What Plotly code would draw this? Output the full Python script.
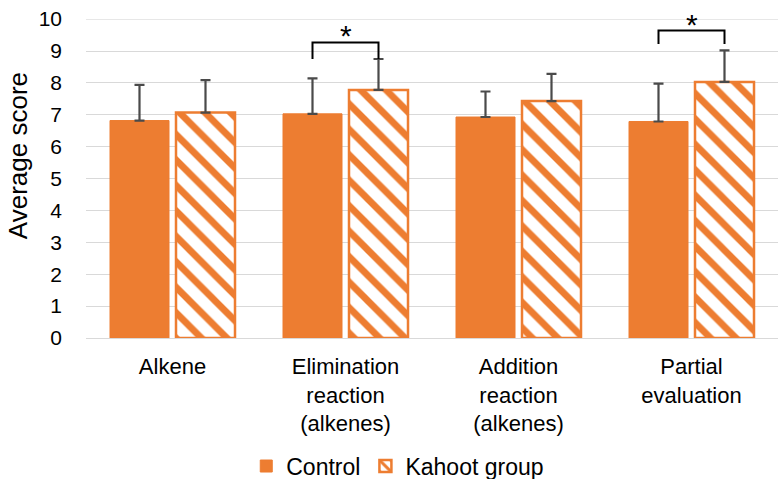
import plotly.graph_objects as go

categories = ["Alkene", "Elimination<br>reaction<br>(alkenes)", "Addition<br>reaction<br>(alkenes)", "Partial<br>evaluation"]
control = [6.82, 7.03, 6.93, 6.79]
control_err = [1.12, 1.11, 0.80, 1.19]
kahoot = [7.07, 7.78, 7.43, 8.03]
kahoot_err = [1.02, 0.97, 0.85, 0.99]
y_ticks = [0, 1, 2, 3, 4, 5, 6, 7, 8, 9, 10]
# significance brackets: category index, leg bottom, bracket top, label
sig_idx = [1, 3]
sig_bottom = [8.75, 9.22]
sig_top = [9.27, 9.64]
sig_label = ["*", "*"]

ORANGE = "#ED7D31"
GRID = "#D9D9D9"
FONT = "Liberation Sans, Arial, sans-serif"
bargap = 0.237
bargroupgap = 0.106

fig = go.Figure()
fig.add_trace(go.Bar(
    name="Control", x=categories, y=control,
    marker=dict(color=ORANGE, line=dict(color=ORANGE, width=1)),
    error_y=dict(type="data", array=control_err, symmetric=False, arrayminus=[0]*4,
                 color="#4a4a4a", thickness=2.2, width=5),
))
fig.add_trace(go.Bar(
    name="Kahoot group", x=categories, y=kahoot,
    marker=dict(color="white", line=dict(color=ORANGE, width=2.5),
                pattern=dict(shape="\\", fgcolor=ORANGE, bgcolor="white", fgopacity=1,
                             fillmode="replace", size=18, solidity=0.38)),
    error_y=dict(type="data", array=kahoot_err, symmetric=False, arrayminus=[0]*4,
                 color="#4a4a4a", thickness=2.2, width=5),
))

# top gridline (at the upper edge of the value range)
fig.add_shape(type="line", xref="paper", yref="y", x0=0, x1=1,
              y0=y_ticks[-1], y1=y_ticks[-1], line=dict(color=GRID, width=1), layer="below")

off = (1 - bargap) / 4
for i, yb, yt, lab in zip(sig_idx, sig_bottom, sig_top, sig_label):
    x0 = i - off
    x1 = i + off
    fig.add_shape(type="path",
                  path=f"M {x0} {yb} L {x0} {yt} L {x1} {yt} L {x1} {yb}",
                  xref="x", yref="y", line=dict(color="black", width=2))
    fig.add_annotation(x=i, y=yt, xref="x", yref="y", text=lab, showarrow=False,
                       yanchor="bottom", yshift=-12,
                       font=dict(size=30, color="black", family=FONT))

# y-axis title as rotated annotation
fig.add_annotation(text="Average score", textangle=-90, xref="paper", yref="paper",
                   x=0, y=0.57, xanchor="center", yanchor="middle", xshift=-68,
                   showarrow=False, font=dict(size=26, color="black", family=FONT))

fig.update_layout(
    width=783, height=479,
    margin=dict(l=86, r=5, t=19, b=141),
    plot_bgcolor="white", paper_bgcolor="white",
    barmode="group", bargap=bargap, bargroupgap=bargroupgap,
    font=dict(family=FONT, size=22, color="#000000"),
    showlegend=True,
    legend=dict(orientation="h", xref="container", yref="container",
                x=0.508, xanchor="center", y=0.027, yanchor="middle",
                font=dict(size=23), itemwidth=30, traceorder="normal"),
    xaxis=dict(type="category", showgrid=False, ticks="", tickfont=dict(size=22),
               automargin=False, ticklabelstandoff=13),
    yaxis=dict(range=[0, 10.004], tickvals=y_ticks, showgrid=True, gridcolor=GRID, gridwidth=1,
               zeroline=True, zerolinecolor=GRID, zerolinewidth=1,
               tickfont=dict(size=21, color="#000000"), ticks="", automargin=False,
               ticklabelstandoff=23),
)

fig.write_html("out.html", config={"displayModeBar": False},
               post_script="document.body.style.margin='0';")
